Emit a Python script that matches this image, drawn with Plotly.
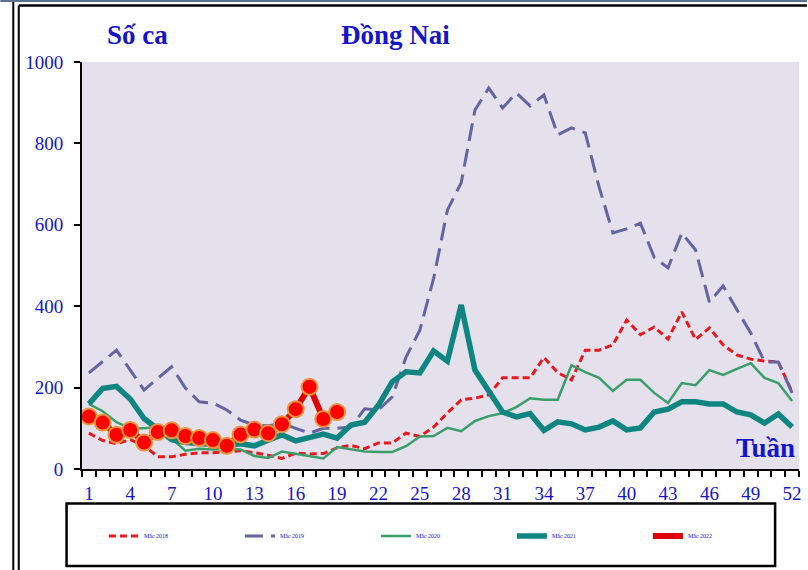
import plotly.graph_objects as go

weeks = list(range(1, 53))

cases_2018 = [88, 70, 62, 72, 58, 30, 30, 36, 40, 40, 42, 45, 40, 34, 26, 39, 37, 38, 52, 58, 50, 64, 64, 88, 80,
              103, 138, 170, 174, 182, 224, 224, 224, 274, 237, 219, 292, 292, 305, 366, 330, 349, 319, 386, 318,
              347, 305, 280, 270, 265, 263, 189]
cases_2019 = [236, 263, 292, 243, 194, 223, 251, 199, 165, 162, 145, 120, 108, 106, 112, 100, 88, 100, 100, 103,
              148, 145, 177, 275, 341, 468, 636, 703, 882, 936, 887, 924, 892, 919, 821, 838, 826, 693, 580, 590,
              604, 520, 494, 580, 538, 410, 450, 391, 334, 263, 263, 187]
cases_2020 = [160, 142, 115, 100, 100, 103, 75, 45, 50, 48, 50, 48, 32, 27, 43, 37, 31, 26, 54, 49, 43, 42, 42,
              56, 80, 81, 101, 93, 118, 130, 137, 152, 174, 170, 170, 255, 238, 224, 192, 219, 219, 187, 162, 211,
              206, 243, 231, 246, 260, 224, 211, 167]
cases_2021 = [160, 198, 203, 172, 124, 100, 72, 65, 62, 60, 58, 62, 57, 71, 84, 69, 79, 86, 76, 108, 115, 157,
              214, 239, 236, 290, 265, 403, 243, 190, 140, 128, 136, 95, 116, 111, 96, 103, 118, 96, 101, 140, 147,
              165, 165, 160, 160, 140, 133, 113, 135, 103]
weeks_2022 = list(range(1, 20))
cases_2022 = [129, 114, 84, 96, 65, 91, 95, 81, 76, 71, 57, 85, 97, 88, 110, 147, 202, 123, 140]

series_names = ["Mắc 2018", "Mắc 2019", "Mắc 2020", "Mắc 2021", "Mắc 2022"]
x_tick_vals = [1, 4, 7, 10, 13, 16, 19, 22, 25, 28, 31, 34, 37, 40, 43, 46, 49, 52]
y_tick_vals = [0, 200, 400, 600, 800, 1000]

BLUE = "#1414C8"
SERIF = "Liberation Serif, Times New Roman, serif"

fig = go.Figure()
fig.add_trace(go.Scatter(x=weeks, y=cases_2018, mode="lines", name=series_names[0],
                         line=dict(color="#E41A1C", width=3, dash="7px,4px")))
fig.add_trace(go.Scatter(x=weeks, y=cases_2019, mode="lines", name=series_names[1],
                         line=dict(color="#6464A0", width=3, dash="18px,8px")))
fig.add_trace(go.Scatter(x=weeks, y=cases_2020, mode="lines", name=series_names[2],
                         line=dict(color="#3A9E6A", width=2.5)))
fig.add_trace(go.Scatter(x=weeks, y=cases_2021, mode="lines", name=series_names[3],
                         line=dict(color="#0F8582", width=5.5)))
fig.add_trace(go.Scatter(x=weeks_2022, y=cases_2022, mode="lines", name=series_names[4],
                         line=dict(color="#E00000", width=6)))
fig.add_trace(go.Scatter(x=weeks_2022, y=cases_2022, mode="markers", showlegend=False,
                         marker=dict(color="#FF0000", size=16, line=dict(color="#E8963C", width=2))))

L, R, T, B = 82, 6, 62, 101
PW, PH = 808 - L - R, 570 - T - B


def px(xp):
    return (xp - L) / PW


def py(yp):
    return (570 - B - yp) / PH


shapes = [
    dict(type="line", xref="paper", yref="paper", x0=px(13), x1=px(13), y0=py(0), y1=py(570),
         line=dict(color="black", width=2)),
    dict(type="line", xref="paper", yref="paper", x0=px(18.5), x1=px(18.5), y0=py(5.5), y1=py(570),
         line=dict(color="black", width=2)),
    dict(type="line", xref="paper", yref="paper", x0=px(18.5), x1=px(810), y0=py(5.5), y1=py(5.5),
         line=dict(color="black", width=2.5)),
    dict(type="line", xref="paper", yref="paper", x0=px(0), x1=px(810), y0=py(1), y1=py(1),
         line=dict(color="#5A7090", width=2)),
    dict(type="rect", xref="paper", yref="paper", x0=px(66.5), x1=px(778), y0=py(566), y1=py(503.5),
         line=dict(color="black", width=2.5), fillcolor="white", layer="below"),
]

annotations = [
    dict(text="<b>Số ca</b>", xref="paper", yref="paper", x=px(138), y=py(35), showarrow=False,
         font=dict(family=SERIF, size=27, color=BLUE), xanchor="center", yanchor="middle"),
    dict(text="<b>Đồng Nai</b>", xref="paper", yref="paper", x=px(397), y=py(35), showarrow=False,
         font=dict(family=SERIF, size=27, color=BLUE), xanchor="center", yanchor="middle"),
    dict(text="<b>Tuần</b>", xref="paper", yref="paper", x=px(800), y=py(448), showarrow=False,
         font=dict(family=SERIF, size=27, color=BLUE), xanchor="right", yanchor="middle"),
]

fig.update_layout(
    width=808, height=570,
    margin=dict(l=L, r=R, t=T, b=B, pad=0),
    paper_bgcolor="white",
    plot_bgcolor="#E4E0EC",
    showlegend=True,
    legend=dict(orientation="h", x=px(104), y=py(536), xanchor="left", yanchor="middle",
                font=dict(family=SERIF, size=6, color=BLUE), entrywidth=91, entrywidthmode="pixels",
                bgcolor="rgba(0,0,0,0)", tracegroupgap=0),
    shapes=shapes,
    annotations=annotations,
    xaxis=dict(range=[0.5, 52.5], tickvals=x_tick_vals, ticktext=[str(v) for v in x_tick_vals],
               ticks="outside", ticklen=0, tickcolor="black",
               minor=dict(tickvals=[w + 0.5 for w in range(0, 53)], ticks="outside", ticklen=6,
                          tickcolor="black", tickwidth=2),
               showline=True, linecolor="black", linewidth=2, showgrid=False, zeroline=False,
               tickfont=dict(family=SERIF, size=19, color=BLUE), ticklabelstandoff=6, fixedrange=True),
    yaxis=dict(range=[0, 1000], tickvals=y_tick_vals, ticks="outside", ticklen=6, tickwidth=2,
               tickcolor="black", showline=True, linecolor="black", linewidth=2, showgrid=False,
               zeroline=False, tickfont=dict(family=SERIF, size=19, color=BLUE), ticklabelstandoff=7,
               fixedrange=True),
)

fig.write_html("out.html", config={"displayModeBar": False},
               post_script="document.body.style.margin='0';document.body.style.overflow='hidden';")
